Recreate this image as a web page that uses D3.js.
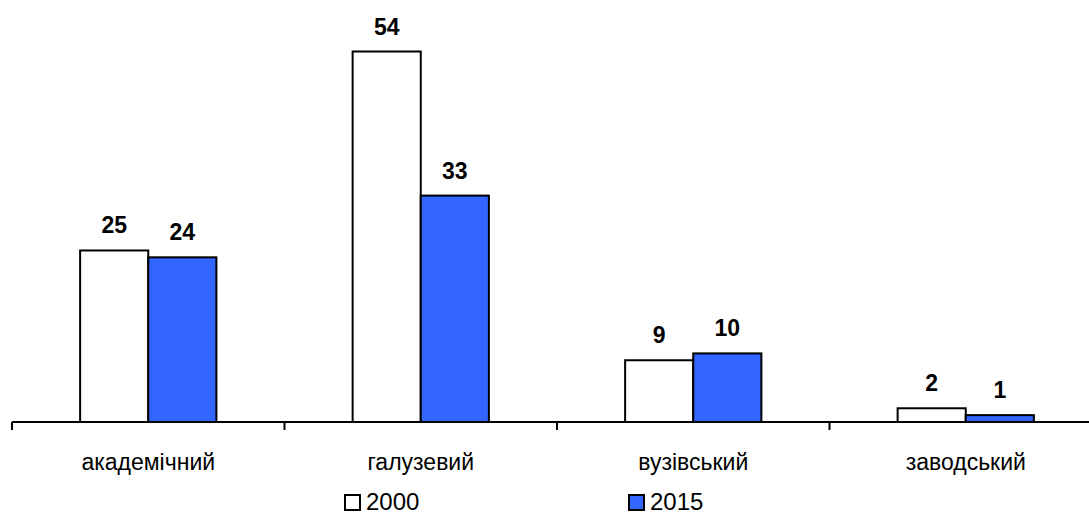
<!DOCTYPE html>
<html>
<head>
<meta charset="utf-8">
<script src="https://cdn.jsdelivr.net/npm/d3@7"></script>
<style>
  body { margin: 0; background: #fff; }
  text { font-family: Arial, "Liberation Sans", sans-serif; }
</style>
</head>
<body>
<script>
var categories = ['академічний', 'галузевий', 'вузівський', 'заводський'];
var series = ['2000', '2015'];
var values2000 = [25, 54, 9, 2];
var values2015 = [24, 33, 10, 1];
var colors = ['#ffffff', '#3366ff'];

var width = 1089, height = 515;
var baseline = 422;

var svg = d3.select('body').append('svg')
    .attr('width', width)
    .attr('height', height);

var x = d3.scaleBand()
    .domain(categories)
    .range([12, 1102])
    .padding(0);

var bw = x.bandwidth();
var xs = d3.scaleBand()
    .domain(series)
    .range([bw / 4, bw * 3 / 4]);

var y = d3.scaleLinear()
    .domain([0, 54])
    .range([baseline, 51.5]);

var data = [];
categories.forEach(function(c, i){
    data.push({cat: c, s: '2000', v: values2000[i], color: colors[0]});
    data.push({cat: c, s: '2015', v: values2015[i], color: colors[1]});
});

svg.append('g').selectAll('rect')
    .data(data).enter().append('rect')
    .attr('x', function(d){ return x(d.cat) + xs(d.s); })
    .attr('y', function(d){ return y(d.v); })
    .attr('width', xs.bandwidth())
    .attr('height', function(d){ return baseline - y(d.v); })
    .style('fill', function(d){ return d.color; })
    .style('stroke', '#000')
    .style('stroke-width', 2);

svg.append('g').selectAll('text')
    .data(data).enter().append('text')
    .attr('x', function(d){ return x(d.cat) + xs(d.s) + xs.bandwidth() / 2; })
    .attr('y', function(d){ return y(d.v) - 17; })
    .attr('text-anchor', 'middle')
    .style('font-size', '23px')
    .style('font-weight', 'bold')
    .text(function(d){ return d.v; });

// axis
var axis = svg.append('g');
axis.append('line')
    .attr('x1', x.range()[0]).attr('x2', x.range()[1])
    .attr('y1', baseline).attr('y2', baseline)
    .style('stroke', '#000').style('stroke-width', 2);

var tickPos = categories.map(function(c){ return x(c); }).concat([x.range()[1]]);
axis.selectAll('.tick')
    .data(tickPos).enter().append('line')
    .attr('x1', function(d){ return d; }).attr('x2', function(d){ return d; })
    .attr('y1', baseline).attr('y2', baseline + 8)
    .style('stroke', '#000').style('stroke-width', 2);

axis.selectAll('.cat')
    .data(categories).enter().append('text')
    .attr('x', function(c){ return x(c) + bw / 2; })
    .attr('y', 470)
    .attr('text-anchor', 'middle')
    .style('font-size', '23px')
    .text(function(c){ return c; });

// legend
var legendX = [345, 629];
var legend = svg.append('g').selectAll('g')
    .data(series).enter().append('g')
    .attr('transform', function(d, i){ return 'translate(' + legendX[i] + ',495)'; });
legend.append('rect')
    .attr('width', 15).attr('height', 15)
    .style('fill', function(d, i){ return colors[i]; })
    .style('stroke', '#000').style('stroke-width', 2);
legend.append('text')
    .attr('x', 21).attr('y', 15)
    .style('font-size', '24px')
    .text(function(d){ return d; });
</script>
</body>
</html>
